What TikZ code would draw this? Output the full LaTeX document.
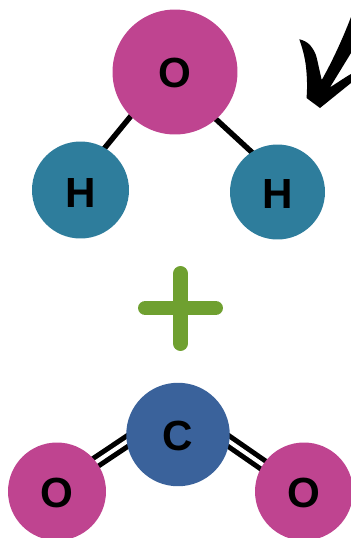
\documentclass[tikz,border=0pt]{standalone}
\usepackage{fontspec}
\setmainfont{Liberation Sans}
\usetikzlibrary{backgrounds}
\definecolor{oxygen}{HTML}{BF4490}
\definecolor{hydrogen}{HTML}{2E7D9C}
\definecolor{carbon}{HTML}{3A629B}
\definecolor{plusgreen}{HTML}{6FA030}
\newcommand{\lowered}[2]{\raisebox{-#1}[\height][\depth]{#2}}
\tikzset{
    atom/.style={circle, inner sep=0pt, text=black, font=\fontsize{24}{24}\selectfont\bfseries},
    bond/.style={draw=black, line width=3.1pt},
    dblbond/.style={draw=black, line width=2.9pt, double=white, double distance=2.3pt}
}
\begin{document}
\begin{tikzpicture}[x=0.02cm, y=-0.02cm]
            \useasboundingbox (0,0) rectangle (351,538);
            % water
            \node[atom, fill=oxygen, minimum size=2.5cm] (O1) at (175,72) {\lowered{0.6pt}{O}};
            \node[atom, fill=hydrogen, minimum size=1.94cm] (H1) at (80.5,190) {\lowered{1.7pt}{H}};
            \node[atom, fill=hydrogen, minimum size=1.9cm] (H2) at (277.5,192) {\lowered{1.1pt}{H}};
            % carbon dioxide
            \node[atom, fill=carbon, minimum size=2.07cm] (C) at (178,434.5) {\lowered{0.6pt}{C}};
            \node[atom, fill=oxygen, minimum size=1.96cm] (O2) at (57,491.5) {\lowered{1.1pt}{O}};
            \node[atom, fill=oxygen, minimum size=1.96cm] (O3) at (304,491.5) {\lowered{1.1pt}{O}};

            \begin{scope}[on background layer]
                \draw[bond, shorten <=-2pt, shorten >=-2pt] (O1.225) -- (H1.60);
                \draw[bond, shorten <=-2pt, shorten >=-2pt] (O1.311) -- (H2.123);
                \draw[dblbond, shorten <=-3pt, shorten >=-3pt] (C.188) -- (O2.37);
                \draw[dblbond, shorten <=-3pt, shorten >=-3pt] (C.352) -- (O3.147);
            \end{scope}

            % plus sign
            \draw[plusgreen, line width=8.5pt, line cap=round] (145.5,308) -- (215.5,308);
            \draw[plusgreen, line width=8.5pt, line cap=round] (180.5,273.5) -- (180.5,343.5);

            % hand drawn arrow
            \fill[black] (299.3,39.3) .. controls (303,40) and (307,42) .. (310,45)
                .. controls (314,50) and (316,54) .. (317,59)
                -- (321.7,80)
                .. controls (332,62) and (343,38) .. (351,17)
                -- (351,53)
                -- (330,87.3)
                .. controls (337,83) and (344,78) .. (351,74)
                -- (351,83)
                -- (320,108)
                -- (306.5,98)
                .. controls (307.5,88) and (307,76) .. (306,67)
                .. controls (305,57) and (302,47) .. (299.3,39.3) -- cycle;
\end{tikzpicture}
\end{document}
